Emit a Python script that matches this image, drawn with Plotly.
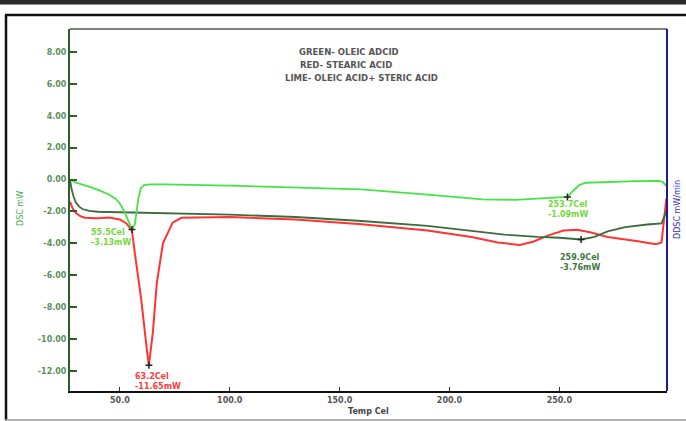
import plotly.graph_objects as go

# DSC thermograms (heat flow in mW vs temperature in Cel)
temp_oleic = [27.3, 30, 33, 36, 41, 45, 48, 50, 52, 53.5, 55.5, 56.8, 57.6, 58.4, 59.5, 61, 64,
              70, 100, 130, 160, 190, 205, 215, 230, 245, 253.7, 256, 259, 262, 270, 285, 295, 297, 298.7]
dsc_oleic = [0.0, -0.2, -0.32, -0.44, -0.7, -0.94, -1.2, -1.5, -2.0, -2.5, -3.13, -2.8, -2.1, -1.2,
             -0.55, -0.35, -0.3, -0.3, -0.38, -0.48, -0.62, -0.95, -1.15, -1.25, -1.27, -1.17, -1.09,
             -0.75, -0.35, -0.2, -0.15, -0.1, -0.08, -0.15, -0.4]

temp_stearic = [27.3, 28.5, 30, 32, 34, 40, 45, 50, 53, 55.5, 56.6, 59.7, 62.3, 63.2, 65, 66.8,
                69.6, 74, 78, 100, 130, 160, 190, 210, 222, 232, 238, 245, 252, 258, 264, 272, 285,
                294, 296.5, 298.7]
dsc_stearic = [-1.4, -1.8, -2.1, -2.3, -2.4, -2.42, -2.38, -2.5, -2.75, -3.2, -4.4, -7.5, -10.7,
               -11.65, -9.6, -6.5, -4.0, -2.7, -2.4, -2.35, -2.5, -2.8, -3.2, -3.6, -3.95,
               -4.1, -3.9, -3.5, -3.2, -3.15, -3.3, -3.6, -3.85, -4.05, -3.95, -1.2]

temp_mix = [27.3, 28, 29, 30, 31.5, 33, 36, 40, 50, 70, 90, 100, 130, 160, 190, 210, 225, 240,
            250, 259.9, 266, 272, 280, 290, 296.5, 298.7]
dsc_mix = [0.0, -0.6, -1.1, -1.45, -1.7, -1.85, -1.97, -2.02, -2.05, -2.1, -2.15, -2.2, -2.35,
           -2.6, -2.9, -3.2, -3.45, -3.6, -3.65, -3.76, -3.6, -3.25, -2.98, -2.82, -2.75, -2.0]

# labelled peaks: (temperature, heat flow, colour, x shift, y shift)
peak_temp = [55.5, 63.2, 253.7, 259.9]
peak_dsc = [-3.13, -11.65, -1.09, -3.76]
peak_color = ["#72d83a", "#ff3b3b", "#72d83a", "#3f7a3f"]
peak_shift = [(-43, -8), (-16, -16), (-21, -13), (-23, -23)]

legend_lines = ["GREEN- OLEIC ADCID", "RED- STEARIC ACID", "LIME- OLEIC ACID+ STERIC ACID"]

y_ticks = [8, 6, 4, 2, 0, -2, -4, -6, -8, -10, -12]
x_ticks = [50, 100, 150, 200, 250]

X_RANGE = [27.3, 299.0]
Y_RANGE = [-13.26, 9.44]

W, H = 686, 421
ML, MR, MT, MB = 70, 19, 29, 30
PW, PH = W - ML - MR, H - MT - MB


def px(x):
    return (x - ML) / PW


def py(y):
    return (H - MB - y) / PH


fig = go.Figure()

fig.add_trace(go.Scatter(x=temp_stearic, y=dsc_stearic, mode="lines",
                         line=dict(color="#ff3333", width=2), hoverinfo="skip"))
fig.add_trace(go.Scatter(x=temp_mix, y=dsc_mix, mode="lines",
                         line=dict(color="#3d6b3d", width=1.8), hoverinfo="skip"))
fig.add_trace(go.Scatter(x=temp_oleic, y=dsc_oleic, mode="lines",
                         line=dict(color="#44e444", width=1.8), hoverinfo="skip"))
fig.add_trace(go.Scatter(x=peak_temp, y=peak_dsc, mode="markers",
                         marker=dict(symbol="cross-thin", size=5,
                                     line=dict(color="#222222", width=1.5)),
                         hoverinfo="skip"))

lbl_font = dict(family="DejaVu Sans", size=8, weight="bold")

for t, v, c, (dx, dy) in zip(peak_temp, peak_dsc, peak_color, peak_shift):
    fig.add_annotation(x=t, y=v, xref="x", yref="y", showarrow=False,
                       text=f"{t}Cel<br>{v:.2f}mW", align="left",
                       xanchor="left", yanchor="middle", xshift=dx, yshift=dy,
                       font=dict(lbl_font, color=c))

for txt, cx, cy in zip(legend_lines, [349, 346, 361], [52, 65, 78]):
    fig.add_annotation(x=px(cx), y=py(cy), xref="paper", yref="paper", showarrow=False,
                       text=txt, xanchor="center", yanchor="middle",
                       font=dict(family="DejaVu Sans", size=8.5, weight="bold", color="#555555"))

fig.add_annotation(x=px(368), y=py(411), xref="paper", yref="paper", showarrow=False,
                   text="Temp Cel", xanchor="center", yanchor="middle",
                   font=dict(lbl_font, color="#444444"))
fig.add_annotation(x=px(20), y=py(208), xref="paper", yref="paper", showarrow=False,
                   text="DSC mW", textangle=-90, xanchor="center", yanchor="middle",
                   font=dict(family="DejaVu Sans", size=8, color="#4caa4c"))
fig.add_annotation(x=px(677), y=py(210), xref="paper", yref="paper", showarrow=False,
                   text="DDSC mW/min", textangle=-90, xanchor="center", yanchor="middle",
                   font=dict(family="DejaVu Sans", size=8, color="#3434c4"))

shapes = [
    # heavy rule across the top of the page
    dict(type="rect", x0=px(0), x1=px(W), y0=py(0), y1=py(4.5),
         fillcolor="#2a2a2a", line=dict(width=0)),
    # outer panel frame
    dict(type="line", x0=px(5), x1=px(W), y0=py(15), y1=py(15),
         line=dict(color="#111111", width=2.5)),
    dict(type="line", x0=px(6), x1=px(6), y0=py(15), y1=py(420),
         line=dict(color="#111111", width=2.5)),
    dict(type="line", x0=px(5), x1=px(W), y0=py(420), y1=py(420),
         line=dict(color="#9a9a9a", width=1.5)),
    # plot box: top and right edges
    dict(type="line", x0=0, x1=1, y0=1, y1=1, line=dict(color="#555555", width=1.5)),
    dict(type="line", x0=1, x1=1, y0=0, y1=1, line=dict(color="#1c1c8c", width=2)),
]
for s in shapes:
    s.update(xref="paper", yref="paper", layer="above")

fig.update_layout(
    width=W, height=H, autosize=False,
    margin=dict(l=ML, r=MR, t=MT, b=MB, pad=0),
    paper_bgcolor="white", plot_bgcolor="white",
    showlegend=False,
    shapes=shapes,
    xaxis=dict(range=X_RANGE, tickvals=x_ticks,
               ticktext=[f"{v:.1f}" for v in x_ticks],
               showgrid=False, zeroline=False, showline=True,
               linecolor="#111111", linewidth=2,
               ticks="inside", ticklen=4, tickcolor="#333333", tickwidth=1,
               tickfont=dict(family="DejaVu Sans", size=8, weight="bold", color="#555555")),
    yaxis=dict(range=Y_RANGE, tickvals=y_ticks,
               ticktext=[f"{v:.2f}" for v in y_ticks],
               showgrid=False, zeroline=False, showline=True,
               linecolor="#2e5e2e", linewidth=2,
               ticks="inside", ticklen=7, tickcolor="#2e5e2e", tickwidth=1.5,
               tickfont=dict(family="DejaVu Sans", size=8, weight="bold", color="#5a8f5a")),
)

fig.write_html("out.html")
